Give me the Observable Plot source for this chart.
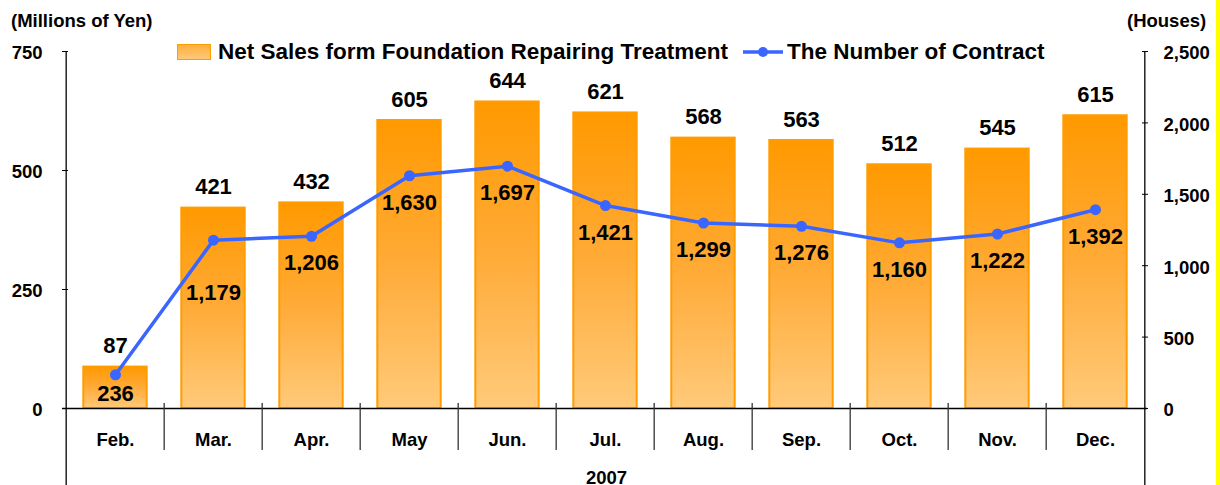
<!DOCTYPE html>
<html>
<head>
<meta charset="utf-8">
<script src="https://cdn.jsdelivr.net/npm/d3@7"></script>
<script src="https://cdn.jsdelivr.net/npm/@observablehq/plot@0.6"></script>
<style>
  html, body { margin: 0; padding: 0; background: #fff; }
  #wrap { position: relative; width: 1220px; height: 485px; overflow: hidden; font-family: "Liberation Sans", Arial, sans-serif; font-weight: bold; color: #000; }
  #wrap > svg { position: absolute; left: 0; top: 0; }
  .lbl { position: absolute; font-size: 18.5px; line-height: 1; white-space: nowrap; }
  #legend { position: absolute; left: 177px; top: 40px; height: 24px; display: flex; align-items: center; font-size: 22.5px; white-space: nowrap; }
  #yellow { position: absolute; left: 1216px; top: 0; width: 4px; height: 485px; background: #ffff00; }
</style>
</head>
<body>
<div id="wrap">
  <div class="lbl" style="left:11px; top:12px;">(Millions of Yen)</div>
  <div class="lbl" style="left:1127px; top:12px;">(Houses)</div>
  <div class="lbl" id="year" style="left:586px; top:469px;">2007</div>
  <div id="legend">
    <span style="display:inline-block;width:32px;height:14px;border:1.5px solid #ff9d00;background:linear-gradient(#ffb040,#ffc878);margin-right:7px;"></span>
    <span id="leg1"></span>
    <svg width="42" height="14" style="margin-left:14px;margin-right:3px;"><line x1="1" y1="7" x2="41" y2="7" stroke="#3a66ff" stroke-width="3.5"/><circle cx="21" cy="7" r="5" fill="#3a66ff"/></svg>
    <span id="leg2"></span>
  </div>
  <div id="yellow"></div>
</div>
<script>
const months = ["Feb.", "Mar.", "Apr.", "May", "Jun.", "Jul.", "Aug.", "Sep.", "Oct.", "Nov.", "Dec."];
const sales = [87, 421, 432, 605, 644, 621, 568, 563, 512, 545, 615];
const contracts = [236, 1179, 1206, 1630, 1697, 1421, 1299, 1276, 1160, 1222, 1392];
const leftTicks = [0, 250, 500, 750];
const rightTicks = [0, 500, 1000, 1500, 2000, 2500];
const seriesNames = ["Net Sales form Foundation Repairing Treatment", "The Number of Contract"];
const yearLabel = "2007";

document.getElementById("leg1").textContent = seriesNames[0];
document.getElementById("leg2").textContent = seriesNames[1];
document.getElementById("year").textContent = yearLabel;

const k = 750 / 2500;
const data = months.map((m, i) => ({ month: m, sales: sales[i], contracts: contracts[i], cy: contracts[i] * k, i }));

const W = 1220, H = 485, mL = 62, mR = 73, mT = 51, mB = 77;
const step = (W - mL - mR) / months.length;
const fmt = d3.format(",");
const font = "Liberation Sans, Arial, sans-serif";

const defs = () => {
  const d = d3.create("svg:defs");
  const g = d.append("linearGradient").attr("id", "barGrad").attr("x1", 0).attr("y1", 0).attr("x2", 0).attr("y2", 1);
  g.append("stop").attr("offset", "0%").attr("stop-color", "#ff9900");
  g.append("stop").attr("offset", "50%").attr("stop-color", "#ffab38");
  g.append("stop").attr("offset", "100%").attr("stop-color", "#ffca7a");
  return d.node();
};

const chart = Plot.plot({
  width: W, height: H,
  marginTop: mT, marginBottom: mB, marginLeft: mL, marginRight: mR,
  style: { fontFamily: font, fontWeight: "bold", color: "#000", background: "transparent", overflow: "visible" },
  x: { domain: months, padding: 0, axis: null, label: null },
  y: { domain: [0, 750], axis: null, label: null },
  marks: [
    defs,
    Plot.barY(data, { x: "month", y: "sales", fill: "url(#barGrad)", stroke: "#ff9d00", strokeWidth: 2, insetLeft: 17.3, insetRight: 17.3 }),
    Plot.ruleY([0], { stroke: "#000", strokeWidth: 1.5 }),
    // category dividers
    Plot.ruleX(months.slice(1), { x: d => d, dx: -step / 2, y1: 10.5, y2: -88, stroke: "#333", strokeWidth: 1.3 }),
    // axis lines
    Plot.ruleX([months[0]], { x: d => d, dx: -step / 2, y1: 750, y2: -180, stroke: "#000", strokeWidth: 1.3 }),
    Plot.ruleX([months[months.length - 1]], { x: d => d, dx: step / 2, y1: 750, y2: -180, stroke: "#000", strokeWidth: 1.3 }),
    // left axis
    Plot.axisY(leftTicks, { anchor: "left", tickSize: 6, dx: 6, text: null, stroke: "#000", label: null }),
    Plot.axisY(leftTicks, { anchor: "left", tickSize: 0, tickPadding: 20, fontSize: 18.5, dy: 2, tickFormat: d => fmt(d), label: null }),
    // right axis
    Plot.axisY(rightTicks.map(v => v * k), { anchor: "right", tickSize: 6, dx: -6, text: null, stroke: "#000", label: null }),
    Plot.axisY(rightTicks.map(v => v * k), { anchor: "right", tickSize: 0, tickPadding: 16, fontSize: 18.5, dy: 2, tickFormat: d => fmt(Math.round(d / k)), label: null }),
    // month labels
    Plot.axisX(months, { anchor: "bottom", tickSize: 0, tickPadding: 24, fontSize: 18.5, label: null }),
    // bar value labels
    Plot.text(data, { x: "month", y: "sales", text: d => fmt(d.sales), lineAnchor: "bottom", dy: -14, fontSize: 22, fill: "#000" }),
    // line
    Plot.line(data, { x: "month", y: "cy", stroke: "#3a66ff", strokeWidth: 3.5 }),
    Plot.dot(data, { x: "month", y: "cy", r: 5.5, fill: "#3a66ff", stroke: "none" }),
    // line value labels
    Plot.text(data.filter(d => d.i > 1), { x: "month", y: "cy", text: d => fmt(d.contracts), lineAnchor: "middle", dy: 27, fontSize: 22, fill: "#000" }),
    Plot.text(data.filter(d => d.i === 1), { x: "month", y: "cy", text: d => fmt(d.contracts), lineAnchor: "middle", dy: 53, fontSize: 22, fill: "#000" }),
    Plot.text(data.filter(d => d.i === 0), { x: "month", y: "cy", text: d => fmt(d.contracts), lineAnchor: "middle", dy: 19, fontSize: 22, fill: "#000" })
  ]
});
document.getElementById("wrap").prepend(chart);
</script>
</body>
</html>
